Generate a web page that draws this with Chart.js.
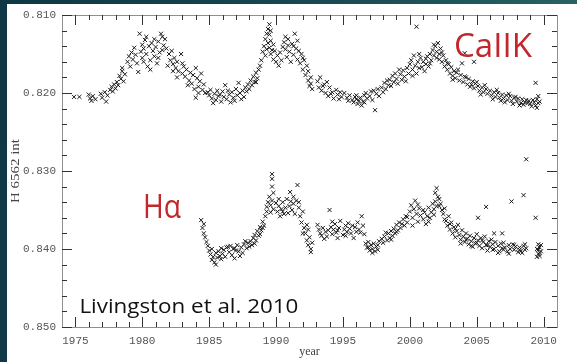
<!DOCTYPE html>
<html>
<head>
<meta charset="utf-8">
<script src="https://cdn.jsdelivr.net/npm/chart.js@4.4.1/dist/chart.umd.min.js"></script>
<style>
  html, body { margin: 0; padding: 0; width: 577px; height: 362px; overflow: hidden; }
  body { background: linear-gradient(95deg, #0f3745 0%, #15434f 40%, #1f5559 75%, #2b6766 100%); position: relative; }
  #panel { position: absolute; left: 7px; top: 4px; width: 570px; height: 358px; background: #ffffff; }
  #c { position: absolute; left: 0; top: 0; }
</style>
</head>
<body>
<div id="panel"></div>
<canvas id="c" width="577" height="362"></canvas>
<script>
// Axis ticks and labels
const xMajorTicks = [1975, 1980, 1985, 1990, 1995, 2000, 2005, 2010];
const yMajorTicks = [0.810, 0.820, 0.830, 0.840, 0.850];
const xTitle = 'year';
const yTitle = 'H 6562 int';

// Ca II K index, Kitt Peak disk-integrated series
const caYear = [
  1974.9, 1975.3, 1976.0, 1976.1, 1976.2, 1976.3, 1976.5, 1976.9, 1977.0, 1977.2,
  1977.3, 1977.4, 1977.6, 1977.7, 1977.8, 1977.9, 1978.0, 1978.1, 1978.2, 1978.3,
  1978.4, 1978.5, 1978.5, 1978.6, 1978.7, 1978.9, 1979.0, 1979.1, 1979.2, 1979.3,
  1979.4, 1979.5, 1979.6, 1979.7, 1979.8, 1979.9, 1980.0, 1980.0, 1980.1, 1980.2,
  1980.3, 1980.4, 1980.5, 1980.6, 1980.7, 1980.8, 1980.9, 1981.0, 1981.1, 1981.2,
  1981.3, 1981.4, 1981.5, 1981.6, 1981.7, 1981.8, 1982.0, 1982.1, 1982.2, 1982.3,
  1982.4, 1982.5, 1982.6, 1982.7, 1982.9, 1983.0, 1983.1, 1983.2, 1983.3, 1983.5,
  1983.6, 1983.7, 1983.8, 1984.0, 1984.0, 1984.1, 1984.2, 1984.3, 1984.4, 1984.5,
  1984.6, 1984.7, 1984.9, 1985.0, 1985.1, 1985.2, 1985.4, 1985.5, 1985.6, 1985.7,
  1985.9, 1986.0, 1986.1, 1986.2, 1986.3, 1986.5, 1986.6, 1986.7, 1986.8, 1987.0,
  1987.1, 1987.2, 1987.3, 1987.5, 1987.6, 1987.7, 1987.9, 1988.0, 1988.1, 1988.2,
  1988.3, 1988.4, 1988.5, 1988.6, 1988.7, 1988.8, 1988.9, 1989.0, 1989.1, 1989.2,
  1989.2, 1989.3, 1989.3, 1989.4, 1989.4, 1989.5, 1989.5, 1989.6, 1989.6, 1989.7,
  1989.8, 1989.8, 1990.0, 1990.1, 1990.2, 1990.3, 1990.4, 1990.6, 1990.7, 1990.7,
  1990.8, 1990.9, 1991.0, 1991.1, 1991.2, 1991.3, 1991.4, 1991.5, 1991.6, 1991.7,
  1991.8, 1991.9, 1992.0, 1992.1, 1992.2, 1992.3, 1992.4, 1992.5, 1992.6, 1992.7,
  1993.1, 1993.2, 1993.3, 1993.4, 1993.6, 1993.7, 1993.8, 1993.9, 1994.0, 1994.2,
  1994.3, 1994.5, 1994.6, 1994.8, 1994.9, 1995.1, 1995.3, 1995.5, 1995.7, 1995.8,
  1995.9, 1996.0, 1996.1, 1996.2, 1996.3, 1996.4, 1996.5, 1996.6, 1996.7, 1996.8,
  1997.0, 1997.1, 1997.2, 1997.4, 1997.5, 1997.6, 1997.7, 1997.9, 1998.0, 1998.1,
  1998.2, 1998.4, 1998.5, 1998.6, 1998.7, 1998.8, 1998.9, 1999.0, 1999.1, 1999.3,
  1999.4, 1999.5, 1999.6, 1999.8, 1999.9, 2000.0, 2000.1, 2000.2, 2000.3, 2000.4,
  2000.5, 2000.5, 2000.6, 2000.7, 2000.8, 2000.9, 2001.0, 2001.1, 2001.2, 2001.3,
  2001.4, 2001.5, 2001.6, 2001.7, 2001.8, 2001.9, 2002.0, 2002.1, 2002.2, 2002.2,
  2002.3, 2002.4, 2002.5, 2002.6, 2002.7, 2002.8, 2002.9, 2003.0, 2003.1, 2003.2,
  2003.3, 2003.4, 2003.5, 2003.7, 2003.8, 2003.9, 2004.1, 2004.8, 2004.0, 2004.1,
  2004.3, 2004.4, 2004.5, 2004.7, 2004.8, 2004.9, 2005.1, 2005.2, 2005.4, 2005.5,
  2005.7, 2005.8, 2006.0, 2006.1, 2006.3, 2006.4, 2006.6, 2006.7, 2006.9, 2007.0,
  2007.2, 2007.3, 2007.5, 2007.6, 2007.8, 2008.0, 2008.1, 2008.3, 2008.4, 2008.6,
  2008.7, 2008.9, 2009.0, 2009.2, 2009.3, 2009.4, 2009.5, 2009.6,
  1980.1, 1980.3, 1980.6, 1980.9, 1981.2, 1981.5, 1981.9, 1982.3, 1982.6, 1983.0,
  1983.4, 1983.9, 1984.2, 1985.3, 1985.8, 1986.4, 1986.9, 1987.4, 1987.8, 1988.5,
  1989.5, 1989.6, 1989.9, 1990.5, 1990.9, 1991.3, 1991.6, 1992.0, 1992.4, 1992.6,
  1993.5, 1994.1, 1994.7, 1995.4, 1996.0, 1996.6, 1997.3, 1998.3, 1999.2, 1999.7,
  2000.2, 2000.7, 2001.2, 2001.5, 2001.8, 2002.0, 2002.4, 2002.8, 2003.2, 2003.6,
  2004.2, 2004.6, 2005.0, 2005.3, 2005.6, 2006.2, 2006.5, 2006.8, 2007.1, 2007.4,
  2007.7, 2007.9, 2008.2, 2008.5, 2008.8, 2009.1, 2009.4, 2009.5, 2009.6, 2009.7
];
const caValue = [
  0.8205, 0.8205, 0.8202, 0.8207, 0.8210, 0.8204, 0.8208, 0.8201, 0.8206, 0.8199,
  0.8211, 0.8203, 0.8196, 0.8192, 0.8198, 0.8189, 0.8194, 0.8186, 0.8190, 0.8178,
  0.8182, 0.8172, 0.8168, 0.8185, 0.8176, 0.8160, 0.8153, 0.8166, 0.8148, 0.8157,
  0.8142, 0.8151, 0.8162, 0.8173, 0.8124, 0.8147, 0.8138, 0.8155, 0.8143, 0.8132,
  0.8150, 0.8166, 0.8140, 0.8158, 0.8136, 0.8146, 0.8153, 0.8141, 0.8162, 0.8134,
  0.8148, 0.8124, 0.8128, 0.8139, 0.8131, 0.8143, 0.8150, 0.8158, 0.8146, 0.8163,
  0.8155, 0.8168, 0.8160, 0.8172, 0.8150, 0.8175, 0.8166, 0.8179, 0.8170, 0.8184,
  0.8174, 0.8188, 0.8177, 0.8168, 0.8206, 0.8181, 0.8192, 0.8185, 0.8175, 0.8196,
  0.8189, 0.8200, 0.8199, 0.8203, 0.8196, 0.8207, 0.8201, 0.8209, 0.8197, 0.8204,
  0.8211, 0.8198, 0.8205, 0.8190, 0.8208, 0.8202, 0.8212, 0.8199, 0.8206, 0.8195,
  0.8203, 0.8187, 0.8200, 0.8197, 0.8205, 0.8193, 0.8189, 0.8195, 0.8184, 0.8190,
  0.8179, 0.8186, 0.8174, 0.8181, 0.8170, 0.8165, 0.8158, 0.8147, 0.8140, 0.8152,
  0.8131, 0.8144, 0.8124, 0.8136, 0.8118, 0.8112, 0.8142, 0.8150, 0.8133, 0.8145,
  0.8157, 0.8138, 0.8160, 0.8152, 0.8165, 0.8148, 0.8158, 0.8135, 0.8144, 0.8128,
  0.8154, 0.8139, 0.8147, 0.8160, 0.8137, 0.8151, 0.8124, 0.8143, 0.8157, 0.8146,
  0.8162, 0.8150, 0.8170, 0.8158, 0.8177, 0.8165, 0.8184, 0.8191, 0.8180, 0.8195,
  0.8185, 0.8193, 0.8180, 0.8197, 0.8189, 0.8200, 0.8186, 0.8204, 0.8193, 0.8199,
  0.8207, 0.8196, 0.8202, 0.8199, 0.8205, 0.8200, 0.8206, 0.8203, 0.8209, 0.8212,
  0.8205, 0.8208, 0.8214, 0.8210, 0.8206, 0.8216, 0.8211, 0.8203, 0.8200, 0.8207,
  0.8204, 0.8198, 0.8209, 0.8222, 0.8201, 0.8195, 0.8204, 0.8193, 0.8199, 0.8187,
  0.8195, 0.8190, 0.8183, 0.8191, 0.8178, 0.8186, 0.8175, 0.8182, 0.8188, 0.8176,
  0.8183, 0.8171, 0.8179, 0.8168, 0.8175, 0.8163, 0.8158, 0.8170, 0.8152, 0.8165,
  0.8175, 0.8115, 0.8160, 0.8168, 0.8155, 0.8167, 0.8160, 0.8172, 0.8163, 0.8153,
  0.8166, 0.8150, 0.8158, 0.8145, 0.8152, 0.8140, 0.8147, 0.8136, 0.8150, 0.8157,
  0.8143, 0.8160, 0.8152, 0.8166, 0.8158, 0.8170, 0.8163, 0.8175, 0.8167, 0.8178,
  0.8172, 0.8181, 0.8174, 0.8184, 0.8177, 0.8162, 0.8149, 0.8160, 0.8186, 0.8179,
  0.8189, 0.8182, 0.8192, 0.8185, 0.8194, 0.8188, 0.8191, 0.8197, 0.8193, 0.8199,
  0.8195, 0.8201, 0.8197, 0.8203, 0.8199, 0.8205, 0.8200, 0.8206, 0.8202, 0.8207,
  0.8203, 0.8209, 0.8204, 0.8210, 0.8206, 0.8211, 0.8207, 0.8213, 0.8208, 0.8212,
  0.8209, 0.8210, 0.8214, 0.8209, 0.8212, 0.8187, 0.8208, 0.8213,
  0.8160, 0.8128, 0.8170, 0.8131, 0.8155, 0.8145, 0.8165, 0.8172, 0.8180, 0.8162,
  0.8190, 0.8195, 0.8200, 0.8213, 0.8202, 0.8197, 0.8210, 0.8208, 0.8198, 0.8186,
  0.8125, 0.8120, 0.8146, 0.8141, 0.8131, 0.8140, 0.8133, 0.8155, 0.8172, 0.8188,
  0.8191, 0.8201, 0.8208, 0.8210, 0.8203, 0.8212, 0.8197, 0.8184, 0.8170, 0.8185,
  0.8178, 0.8150, 0.8156, 0.8162, 0.8138, 0.8155, 0.8148, 0.8162, 0.8183, 0.8170,
  0.8180, 0.8189, 0.8186, 0.8202, 0.8190, 0.8208, 0.8196, 0.8210, 0.8212, 0.8201,
  0.8214, 0.8205, 0.8216, 0.8215, 0.8213, 0.8217, 0.8216, 0.8219, 0.8204, 0.8211
];

// H-alpha 6562 central intensity series
const haYear = [
  1984.4, 1984.5, 1984.6, 1984.6, 1984.7, 1984.8, 1984.9, 1985.0, 1985.1, 1985.2,
  1985.3, 1985.4, 1985.5, 1985.6, 1985.7, 1985.8, 1985.9, 1986.0, 1986.1, 1986.2,
  1986.3, 1986.5, 1986.6, 1986.7, 1986.8, 1986.9, 1987.0, 1987.1, 1987.2, 1987.4,
  1987.5, 1987.6, 1987.8, 1987.9, 1988.0, 1988.1, 1988.2, 1988.3, 1988.4, 1988.5,
  1988.6, 1988.7, 1988.8, 1988.9, 1989.0, 1989.1, 1989.2, 1989.3, 1989.3, 1989.4,
  1989.5, 1989.6, 1989.7, 1989.7, 1989.7, 1989.7, 1989.8, 1989.8, 1990.0, 1990.1,
  1990.2, 1990.3, 1990.4, 1990.5, 1990.6, 1990.7, 1990.8, 1991.0, 1991.05, 1991.1,
  1991.2, 1991.3, 1991.4, 1991.5, 1991.6, 1991.7, 1991.8, 1991.9, 1992.0, 1992.1,
  1992.2, 1992.3, 1992.3, 1992.4, 1992.5, 1992.6, 1992.7, 1993.1, 1993.2, 1993.3,
  1993.5, 1993.6, 1993.7, 1993.8, 1993.9, 1994.0, 1994.1, 1994.2, 1994.3, 1994.4,
  1994.5, 1994.6, 1994.7, 1994.8, 1995.0, 1995.1, 1995.2, 1995.3, 1995.4, 1995.5,
  1995.6, 1995.8, 1995.9, 1996.0, 1996.1, 1996.2, 1996.4, 1996.5, 1996.6, 1996.7,
  1996.8, 1996.9, 1997.0, 1997.1, 1997.2, 1997.3, 1997.4, 1997.5, 1997.6, 1997.7,
  1997.9, 1998.0, 1998.1, 1998.3, 1998.4, 1998.5, 1998.6, 1998.7, 1998.8, 1998.9,
  1999.0, 1999.1, 1999.2, 1999.3, 1999.5, 1999.6, 1999.7, 1999.8, 2000.0, 2000.1,
  2000.2, 2000.3, 2000.4, 2000.5, 2000.6, 2000.7, 2000.8, 2001.0, 2001.1, 2001.2,
  2001.3, 2001.4, 2001.5, 2001.6, 2001.7, 2001.8, 2001.9, 2001.9, 2002.0, 2002.0,
  2002.1, 2002.2, 2002.3, 2002.4, 2002.5, 2002.6, 2002.7, 2002.8, 2002.9, 2003.0,
  2003.1, 2003.2, 2003.3, 2003.4, 2003.5, 2003.6, 2003.7, 2003.8, 2003.9, 2004.0,
  2004.1, 2004.2, 2004.3, 2004.4, 2004.5, 2004.6, 2004.7, 2004.8, 2004.9, 2005.0,
  2005.1, 2005.1, 2005.2, 2005.3, 2005.4, 2005.5, 2005.6, 2005.7, 2005.7, 2005.8,
  2005.9, 2006.0, 2006.1, 2006.2, 2006.3, 2006.3, 2006.4, 2006.6, 2006.7, 2006.8,
  2006.9, 2006.9, 2007.0, 2007.1, 2007.3, 2007.4, 2007.5, 2007.6, 2007.7, 2007.8,
  2007.9, 2008.1, 2008.2, 2008.3, 2008.5, 2008.5, 2008.6, 2008.7, 2008.7, 2009.4,
  2009.5, 2009.6, 2009.6, 2009.7, 2009.7, 2009.8,
  1985.2, 1985.5, 1985.9, 1986.4, 1986.9, 1987.3, 1987.7, 1988.4, 1988.8, 1989.0,
  1989.6, 1990.2, 1990.5, 1990.9, 1991.3, 1991.7, 1992.0, 1992.4, 1992.6, 1993.4,
  1994.2, 1994.6, 1995.2, 1995.7, 1996.3, 1996.9, 1997.2, 1997.6, 1998.2, 1998.6,
  1999.0, 1999.4, 1999.8, 2000.2, 2000.6, 2001.0, 2001.4, 2001.8, 2002.2, 2002.6,
  2003.0, 2003.4, 2003.8, 2004.2, 2004.6, 2005.0, 2005.4, 2005.8, 2006.2, 2006.6,
  2007.0, 2007.4, 2007.8, 2008.2, 2008.4, 2008.6, 2009.5, 2009.6, 2009.7, 2009.8
];
const haValue = [
  0.8363, 0.8373, 0.8380, 0.8368, 0.8385, 0.8391, 0.8396, 0.8402, 0.8407, 0.8414,
  0.8410, 0.8417, 0.8405, 0.8411, 0.8403, 0.8409, 0.8399, 0.8406, 0.8401, 0.8410,
  0.8398, 0.8404, 0.8396, 0.8408, 0.8400, 0.8412, 0.8402, 0.8395, 0.8403, 0.8398,
  0.8405, 0.8394, 0.8399, 0.8392, 0.8397, 0.8390, 0.8395, 0.8386, 0.8382, 0.8389,
  0.8377, 0.8383, 0.8372, 0.8376, 0.8365, 0.8370, 0.8358, 0.8346, 0.8352, 0.8340,
  0.8333, 0.8344, 0.8320, 0.8310, 0.8304, 0.8338, 0.8349, 0.8328, 0.8341, 0.8352,
  0.8345, 0.8358, 0.8349, 0.8340, 0.8355, 0.8347, 0.8336, 0.8345, 0.8327, 0.8339,
  0.8350, 0.8342, 0.8355, 0.8338, 0.8318, 0.8347, 0.8358, 0.8366, 0.8352, 0.8373,
  0.8380, 0.8389, 0.8369, 0.8395, 0.8385, 0.8400, 0.8392, 0.8369, 0.8375, 0.8380,
  0.8373, 0.8387, 0.8378, 0.8384, 0.8376, 0.8350, 0.8372, 0.8381, 0.8375, 0.8368,
  0.8379, 0.8386, 0.8373, 0.8364, 0.8382, 0.8375, 0.8370, 0.8378, 0.8367, 0.8374,
  0.8380, 0.8386, 0.8372, 0.8378, 0.8366, 0.8375, 0.8358, 0.8370, 0.8381, 0.8393,
  0.8398, 0.8391, 0.8402, 0.8395, 0.8400, 0.8393, 0.8403, 0.8397, 0.8401, 0.8390,
  0.8387, 0.8392, 0.8384, 0.8389, 0.8380, 0.8386, 0.8377, 0.8383, 0.8374, 0.8380,
  0.8369, 0.8376, 0.8366, 0.8373, 0.8362, 0.8370, 0.8358, 0.8366, 0.8352, 0.8344,
  0.8360, 0.8349, 0.8338, 0.8355, 0.8365, 0.8348, 0.8357, 0.8362, 0.8353, 0.8368,
  0.8358, 0.8347, 0.8360, 0.8353, 0.8342, 0.8349, 0.8339, 0.8328, 0.8345, 0.8322,
  0.8333, 0.8336, 0.8342, 0.8350, 0.8355, 0.8348, 0.8364, 0.8370, 0.8358, 0.8375,
  0.8366, 0.8380, 0.8372, 0.8385, 0.8377, 0.8369, 0.8382, 0.8388, 0.8376, 0.8384,
  0.8391, 0.8380, 0.8387, 0.8394, 0.8383, 0.8390, 0.8397, 0.8386, 0.8393, 0.8381,
  0.8389, 0.8360, 0.8396, 0.8386, 0.8399, 0.8391, 0.8384, 0.8395, 0.8346, 0.8402,
  0.8390, 0.8397, 0.8388, 0.8394, 0.8400, 0.8380, 0.8391, 0.8396, 0.8403, 0.8393,
  0.8399, 0.8380, 0.8392, 0.8398, 0.8403, 0.8395, 0.8400, 0.8339, 0.8394, 0.8401,
  0.8397, 0.8404, 0.8398, 0.8403, 0.8396, 0.8331, 0.8401, 0.8399, 0.8285, 0.8360,
  0.8400, 0.8406, 0.8394, 0.8409, 0.8398, 0.8403,
  0.8400, 0.8420, 0.8413, 0.8397, 0.8399, 0.8409, 0.8390, 0.8393, 0.8381, 0.8373,
  0.8353, 0.8336, 0.8352, 0.8354, 0.8333, 0.8340, 0.8380, 0.8375, 0.8404, 0.8383,
  0.8365, 0.8376, 0.8383, 0.8370, 0.8379, 0.8398, 0.8405, 0.8395, 0.8379, 0.8388,
  0.8378, 0.8368, 0.8359, 0.8370, 0.8343, 0.8350, 0.8365, 0.8356, 0.8345, 0.8362,
  0.8368, 0.8374, 0.8393, 0.8388, 0.8396, 0.8392, 0.8389, 0.8395, 0.8401, 0.8405,
  0.8401, 0.8406, 0.8395, 0.8401, 0.8405, 0.8394, 0.8410, 0.8401, 0.8405, 0.8395
];

// In-plot labels, anchored in data coordinates
const plotLabels = [
  { text: 'CaIIK', x: 2003.3, y: 0.8154, size: 33, width: 78, color: '#c1272d' },
  { text: 'H\u03b1', x: 1980.05, y: 0.8360, size: 32, width: 38, color: '#c1272d' },
  { text: 'Livingston et al. 2010', x: 1975.3, y: 0.8482, size: 20, width: 219, color: '#111111' }
];

const toPoints = (xs, ys) => xs.map((x, i) => ({ x: x, y: ys[i] }));

// Box frame with inward-pointing ticks on all four sides, the rotated
// y-axis title and the in-plot text labels
const framePlugin = {
  id: 'frameTicks',
  afterDatasetsDraw(chart) {
    const { ctx, chartArea: a } = chart;
    const xs = chart.scales.x, ys = chart.scales.y;
    ctx.save();
    ctx.lineWidth = 1;
    ctx.strokeStyle = '#8f8f8f';
    ctx.strokeRect(Math.round(a.left) + 0.5, Math.round(a.top) + 0.5,
                   Math.round(a.right - a.left), Math.round(a.bottom - a.top));
    ctx.strokeStyle = '#333333';
    ctx.beginPath();
    for (let yr = xMajorTicks[0]; yr <= xMajorTicks[xMajorTicks.length - 1]; yr++) {
      const len = xMajorTicks.includes(yr) ? 10 : 5;
      const px = Math.round(xs.getPixelForValue(yr)) + 0.5;
      ctx.moveTo(px, a.bottom); ctx.lineTo(px, a.bottom - len);
      ctx.moveTo(px, a.top); ctx.lineTo(px, a.top + len);
    }
    for (let k = 0; k <= 20; k++) {
      const v = yMajorTicks[0] + k * 0.002;
      const len = (k % 5 === 0) ? 10 : 5;
      const py = Math.round(ys.getPixelForValue(v)) + 0.5;
      ctx.moveTo(a.left, py); ctx.lineTo(a.left + len, py);
      ctx.moveTo(a.right, py); ctx.lineTo(a.right - len, py);
    }
    ctx.stroke();

    // y-axis title, rotated, centred on the plot height
    ctx.save();
    ctx.font = '12px "Liberation Serif", "DejaVu Serif", serif';
    const tw = ctx.measureText(yTitle).width;
    ctx.translate(16, (a.top + a.bottom) / 2);
    ctx.rotate(-Math.PI / 2);
    ctx.scale(64 / tw, 1);
    ctx.fillStyle = '#444444';
    ctx.textAlign = 'center';
    ctx.textBaseline = 'middle';
    ctx.fillText(yTitle, 0, 0);
    ctx.restore();

    ctx.textBaseline = 'alphabetic';
    ctx.textAlign = 'left';
    plotLabels.forEach(l => {
      ctx.font = l.size + 'px "Open Sans", "Lato", sans-serif';
      const w = ctx.measureText(l.text).width;
      const px = xs.getPixelForValue(l.x), py = ys.getPixelForValue(l.y);
      ctx.save();
      ctx.translate(px, py);
      ctx.scale(l.width / w, 1);
      ctx.fillStyle = l.color;
      ctx.fillText(l.text, 0, 0);
      ctx.restore();
    });
    ctx.restore();
  }
};

const markerStyle = {
  pointStyle: 'crossRot',
  pointRadius: 2.9,
  pointBorderWidth: 1,
  borderColor: '#1a1a1a',
  backgroundColor: '#1a1a1a',
  pointHoverRadius: 2.9,
  showLine: false
};

new Chart(document.getElementById('c'), {
  type: 'scatter',
  data: {
    datasets: [
      Object.assign({ label: 'CaIIK', data: toPoints(caYear, caValue) }, markerStyle),
      Object.assign({ label: 'H\u03b1', data: toPoints(haYear, haValue) }, markerStyle)
    ]
  },
  options: {
    responsive: false,
    animation: false,
    devicePixelRatio: 1,
    layout: { padding: { left: 0, top: 15, right: 20, bottom: 0 } },
    plugins: { legend: { display: false }, tooltip: { enabled: false } },
    scales: {
      x: {
        type: 'linear',
        min: 1974,
        max: 2011,
        grid: { display: false, drawTicks: false },
        border: { display: false },
        afterBuildTicks: s => { s.ticks = xMajorTicks.map(v => ({ value: v })); },
        afterFit: s => { s.height = 35; },
        ticks: {
          color: '#555555',
          padding: 7,
          maxRotation: 0,
          font: { family: '"Liberation Mono", "DejaVu Sans Mono", monospace', size: 11 },
          callback: v => String(v)
        },
        title: {
          display: true,
          text: xTitle,
          color: '#444444',
          padding: { top: 0, bottom: 3 },
          font: { family: '"Liberation Serif", "DejaVu Serif", serif', size: 12 }
        }
      },
      y: {
        type: 'linear',
        reverse: true,
        min: 0.810,
        max: 0.850,
        grid: { display: false, drawTicks: false },
        border: { display: false },
        afterBuildTicks: s => { s.ticks = yMajorTicks.map(v => ({ value: v })); },
        afterFit: s => { s.width = 62; },
        ticks: {
          color: '#555555',
          padding: 6,
          font: { family: '"Liberation Mono", "DejaVu Sans Mono", monospace', size: 11 },
          callback: v => Number(v).toFixed(3)
        },
        title: { display: false }
      }
    }
  },
  plugins: [framePlugin]
});
</script>
</body>
</html>
